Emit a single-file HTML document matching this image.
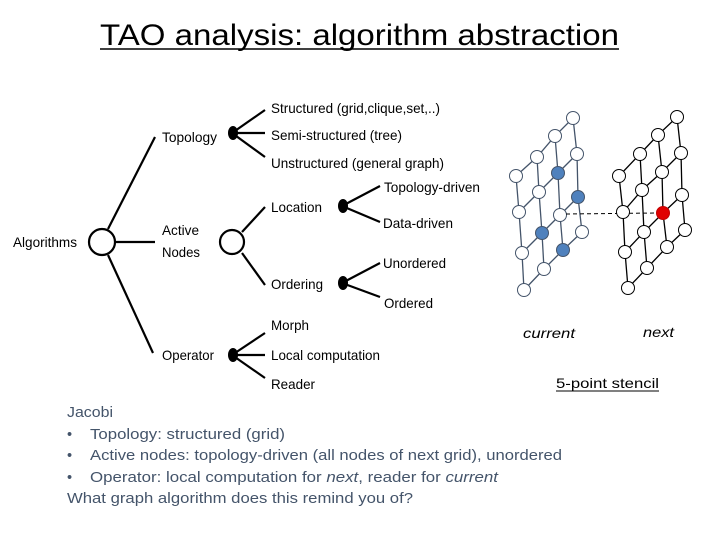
<!DOCTYPE html>
<html><head><meta charset="utf-8"><style>
html,body{margin:0;padding:0;background:#fff;width:720px;height:540px;overflow:hidden}
svg{display:block}
.t{font-family:"Liberation Sans",sans-serif;font-size:14px;fill:#000}
.b{font-family:"Liberation Sans",sans-serif;font-size:14.5px;fill:#44546a}
</style></head><body>
<svg width="720" height="540" viewBox="0 0 720 540" xmlns="http://www.w3.org/2000/svg">
<text x="100" y="45" font-family="Liberation Sans,sans-serif" font-size="30" fill="#000" textLength="519" lengthAdjust="spacingAndGlyphs">TAO analysis: algorithm abstraction</text>
<line x1="100" y1="49" x2="619" y2="49" stroke="#000" stroke-width="1.5"/>
<g stroke="#000" stroke-width="2.2" fill="none">
<line x1="108" y1="229" x2="155" y2="137"/>
<line x1="115" y1="242" x2="155" y2="242"/>
<line x1="108" y1="255" x2="153" y2="353"/>
<circle cx="102" cy="242" r="13" fill="#fff"/>
<line x1="232" y1="133" x2="265" y2="110"/>
<line x1="232" y1="133" x2="265" y2="133"/>
<line x1="232" y1="133" x2="265" y2="157"/>
<line x1="242" y1="232" x2="265" y2="207"/>
<line x1="242" y1="253" x2="265" y2="285"/>
<circle cx="232" cy="242" r="12" fill="#fff"/>
<line x1="342" y1="206" x2="380" y2="186"/>
<line x1="342" y1="206" x2="380" y2="222"/>
<line x1="342" y1="283" x2="380" y2="263"/>
<line x1="342" y1="283" x2="380" y2="297"/>
<line x1="232" y1="355" x2="265" y2="333"/>
<line x1="232" y1="355" x2="265" y2="355"/>
<line x1="232" y1="355" x2="265" y2="378"/>
</g>
<g fill="#000">
<ellipse cx="233" cy="133" rx="5" ry="7"/>
<ellipse cx="343" cy="206" rx="5" ry="7"/>
<ellipse cx="343" cy="283" rx="5" ry="7"/>
<ellipse cx="233" cy="355" rx="5" ry="7"/>
</g>
<g class="t">
<text x="13" y="247" textLength="64" lengthAdjust="spacingAndGlyphs">Algorithms</text>
<text x="162" y="142" textLength="55" lengthAdjust="spacingAndGlyphs">Topology</text>
<text x="162" y="235" textLength="37" lengthAdjust="spacingAndGlyphs">Active</text>
<text x="162" y="257" textLength="38" lengthAdjust="spacingAndGlyphs">Nodes</text>
<text x="162" y="360" textLength="52" lengthAdjust="spacingAndGlyphs">Operator</text>
<text x="271" y="113" textLength="169" lengthAdjust="spacingAndGlyphs">Structured (grid,clique,set,..)</text>
<text x="271" y="140" textLength="131" lengthAdjust="spacingAndGlyphs">Semi-structured (tree)</text>
<text x="271" y="168" textLength="173" lengthAdjust="spacingAndGlyphs">Unstructured (general graph)</text>
<text x="271" y="212" textLength="51" lengthAdjust="spacingAndGlyphs">Location</text>
<text x="271" y="289" textLength="52" lengthAdjust="spacingAndGlyphs">Ordering</text>
<text x="384" y="192" textLength="96" lengthAdjust="spacingAndGlyphs">Topology-driven</text>
<text x="383" y="228" textLength="70" lengthAdjust="spacingAndGlyphs">Data-driven</text>
<text x="383" y="268" textLength="63" lengthAdjust="spacingAndGlyphs">Unordered</text>
<text x="384" y="308" textLength="49" lengthAdjust="spacingAndGlyphs">Ordered</text>
<text x="271" y="330" textLength="38" lengthAdjust="spacingAndGlyphs">Morph</text>
<text x="271" y="360" textLength="109" lengthAdjust="spacingAndGlyphs">Local computation</text>
<text x="271" y="389" textLength="44" lengthAdjust="spacingAndGlyphs">Reader</text>
</g>
<!-- left grid -->
<g stroke="#44546a" stroke-width="1.3" fill="none">
<polyline points="516,176 519,212 522,253 524,290"/>
<polyline points="537,157 539,192 542,233 544,269"/>
<polyline points="555,136 558,173 560,215 563,250"/>
<polyline points="573,118 577,154 578,197 582,232"/>
<polyline points="516,176 537,157 555,136 573,118"/>
<polyline points="519,212 539,192 558,173 577,154"/>
<polyline points="522,253 542,233 560,215 578,197"/>
<polyline points="524,290 544,269 563,250 582,232"/>
</g>
<g stroke="#44546a" stroke-width="1" fill="#fff">
<circle cx="516" cy="176" r="6.5"/><circle cx="519" cy="212" r="6.5"/><circle cx="522" cy="253" r="6.5"/><circle cx="524" cy="290" r="6.5"/>
<circle cx="537" cy="157" r="6.5"/><circle cx="539" cy="192" r="6.5"/><circle cx="542" cy="233" r="6.5" fill="#4f81bd"/><circle cx="544" cy="269" r="6.5"/>
<circle cx="555" cy="136" r="6.5"/><circle cx="558" cy="173" r="6.5" fill="#4f81bd"/><circle cx="560" cy="215" r="6.5"/><circle cx="563" cy="250" r="6.5" fill="#4f81bd"/>
<circle cx="573" cy="118" r="6.5"/><circle cx="577" cy="154" r="6.5"/><circle cx="578" cy="197" r="6.5" fill="#4f81bd"/><circle cx="582" cy="232" r="6.5"/>
</g>
<line x1="566" y1="214" x2="657" y2="213" stroke="#000" stroke-width="1" stroke-dasharray="4,3"/>
<!-- right grid -->
<g stroke="#000" stroke-width="1.3" fill="none">
<polyline points="619,176 623,212 625,252 628,288"/>
<polyline points="640,154 642,190 644,232 647,268"/>
<polyline points="658,135 662,172 663,213 667,247"/>
<polyline points="677,117 681,153 682,195 685,230"/>
<polyline points="619,176 640,154 658,135 677,117"/>
<polyline points="623,212 642,190 662,172 681,153"/>
<polyline points="625,252 644,232 663,213 682,195"/>
<polyline points="628,288 647,268 667,247 685,230"/>
</g>
<g stroke="#000" stroke-width="1" fill="#fff">
<circle cx="619" cy="176" r="6.5"/><circle cx="623" cy="212" r="6.5"/><circle cx="625" cy="252" r="6.5"/><circle cx="628" cy="288" r="6.5"/>
<circle cx="640" cy="154" r="6.5"/><circle cx="642" cy="190" r="6.5"/><circle cx="644" cy="232" r="6.5"/><circle cx="647" cy="268" r="6.5"/>
<circle cx="658" cy="135" r="6.5"/><circle cx="662" cy="172" r="6.5"/><circle cx="663" cy="213" r="6.5" fill="#e00000" stroke="#c00000"/><circle cx="667" cy="247" r="6.5"/>
<circle cx="677" cy="117" r="6.5"/><circle cx="681" cy="153" r="6.5"/><circle cx="682" cy="195" r="6.5"/><circle cx="685" cy="230" r="6.5"/>
</g>
<g font-family="Liberation Sans,sans-serif" font-size="14" fill="#000">
<text x="523" y="338" font-style="italic" textLength="52" lengthAdjust="spacingAndGlyphs">current</text>
<text x="643" y="337" font-style="italic" textLength="31" lengthAdjust="spacingAndGlyphs">next</text>
<text x="556" y="388" textLength="103" lengthAdjust="spacingAndGlyphs">5-point stencil</text>
</g>
<line x1="556" y1="391" x2="659" y2="391" stroke="#000" stroke-width="1"/>
<g class="b">
<text x="67" y="417" textLength="46" lengthAdjust="spacingAndGlyphs">Jacobi</text>
<text x="67" y="439">•</text>
<text x="90" y="439" textLength="195" lengthAdjust="spacingAndGlyphs">Topology: structured (grid)</text>
<text x="67" y="460">•</text>
<text x="90" y="460" textLength="472" lengthAdjust="spacingAndGlyphs">Active nodes: topology-driven (all nodes of next grid), unordered</text>
<text x="67" y="482">•</text>
<text x="90" y="482" textLength="408" lengthAdjust="spacingAndGlyphs">Operator: local computation for <tspan font-style="italic">next</tspan>, reader for <tspan font-style="italic">current</tspan></text>
<text x="67" y="503" textLength="346" lengthAdjust="spacingAndGlyphs">What graph algorithm does this remind you of?</text>
</g>
</svg>
</body></html>
